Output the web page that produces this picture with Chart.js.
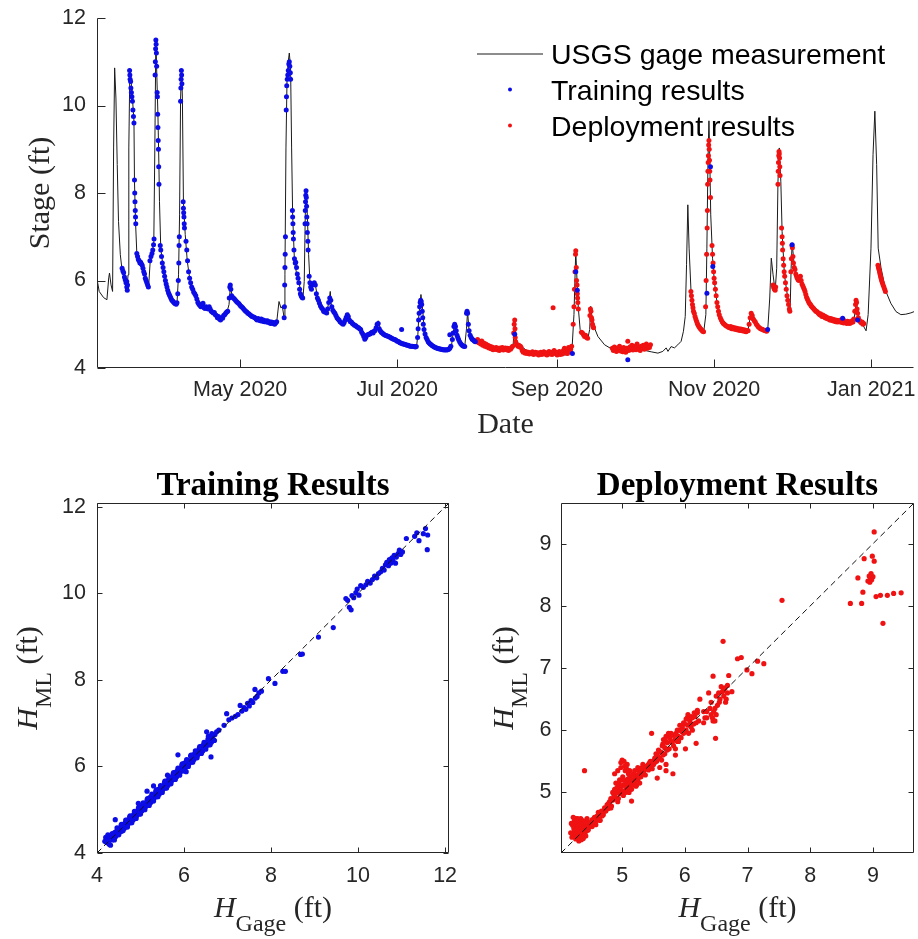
<!DOCTYPE html>
<html>
<head>
<meta charset="utf-8">
<script src="https://cdn.jsdelivr.net/npm/chart.js@4.4.1/dist/chart.umd.min.js"></script>
<style>
  body { margin: 0; background: #fff; }
  #page { position: relative; width: 918px; height: 939px; overflow: hidden; }
  canvas { position: absolute; }
</style>
</head>
<body>
<div id="page">
  <canvas id="stage" width="918" height="440" style="left:0;top:0"></canvas>
  <canvas id="train" width="460" height="489" style="left:0;top:450px"></canvas>
  <canvas id="deploy" width="458" height="489" style="left:460px;top:450px"></canvas>
</div>
<script>
// x values in the time chart are days since 2020-01-01
const dateTickDays = [121, 182, 244, 305, 366];
const dateTickLabels = ['May 2020', 'Jul 2020', 'Sep 2020', 'Nov 2020', 'Jan 2021'];
const stageTicks = [4, 6, 8, 10, 12];
const trainTicks = [4, 6, 8, 10, 12];
const deployTicks = [5, 6, 7, 8, 9];

// USGS gage measurement [day, stage ft]
const gageSeries = [
  [65.4,6.05],[66.3,5.75],[68.0,5.61],[69.3,5.56],[70.0,6.06],[70.3,6.17],[70.9,5.9],[71.5,5.75],[71.9,9.03],[72.3,10.86],
  [72.8,10.17],[73.3,8.65],[73.8,7.35],[74.5,6.59],[75.1,6.28],[76.2,6.06],[77.1,5.79],[77.5,6.13],[77.8,9.03],[78.2,10.82],
  [78.7,10.55],[79.3,10.09],[79.8,9.64],[80.0,8.27],[80.4,7.35],[80.9,6.63],[81.8,6.44],[82.9,6.4],[83.9,6.21],[84.8,5.98],
  [85.5,5.87],[86.1,6.44],[87.0,6.67],[87.5,6.89],[87.9,9.03],[88.3,11.54],[88.7,10.63],[89.1,9.79],[89.5,8.57],[89.7,7.81],
  [90.2,6.74],[91.3,6.21],[92.6,5.83],[93.9,5.64],[95.2,5.52],[96.5,5.48],[97.1,6.13],[97.5,7.5],[97.9,10.17],[98.3,10.82],
  [98.6,10.17],[99.0,7.81],[99.7,7.05],[100.5,6.44],[101.6,5.98],[103.6,5.67],[106.1,5.45],[108.7,5.37],[111.3,5.26],[113.9,5.13],
  [115.8,5.26],[116.7,5.45],[117.3,5.92],[117.8,5.67],[119.1,5.6],[121.6,5.45],[124.2,5.26],[128.1,5.13],[131.3,5.08],[134.6,5.03],
  [135.3,5.1],[136.1,5.52],[136.9,5.37],[137.4,5.41],[138.1,5.14],[138.4,6.13],[138.8,9.03],[139.2,10.55],[139.7,11.01],[140.1,11.2],
  [140.6,10.86],[141.0,9.03],[141.4,7.5],[142.1,6.44],[143.0,6.13],[143.6,6.06],[144.7,5.68],[145.4,5.6],[145.9,5.98],[146.3,7.5],
  [146.6,8.07],[147.1,7.5],[147.6,6.59],[148.1,5.98],[149.0,5.83],[150.1,5.94],[151.1,5.6],[152.7,5.37],[154.6,5.26],[155.5,5.52],
  [156.0,5.75],[156.5,5.37],[157.6,5.26],[159.1,5.1],[161.1,4.99],[162.4,5.14],[163.0,5.26],[164.0,5.07],[165.6,4.99],[167.5,4.91],
  [168.8,4.76],[169.7,4.65],[171.4,4.76],[173.3,4.84],[174.6,5.08],[175.7,4.84],[177.2,4.76],[179.2,4.72],[181.1,4.65],[183.7,4.57],
  [186.3,4.53],[189.5,4.49],[190.0,4.76],[190.4,5.22],[191.2,5.68],[191.8,5.37],[192.5,4.88],[193.4,4.68],[195.3,4.53],[197.9,4.46],
  [201.8,4.42],[203.1,4.53],[203.8,4.84],[204.4,5.03],[205.0,4.84],[205.9,4.65],[208.2,4.49],[208.9,4.91],[209.3,5.29],[209.9,4.84],
  [211.5,4.65],[213.4,4.57],[216.0,4.53],[219.9,4.46],[222.4,4.44],[225.7,4.42],[227.0,4.53],[227.6,5.14],[228.3,4.57],[230.2,4.49],
  [232.8,4.38],[236.7,4.34],[240.5,4.34],[244.4,4.3],[248.3,4.3],[249.8,4.38],[250.6,5.22],[251.3,6.68],[251.8,5.98],[252.3,5.37],
  [253.0,4.88],[254.1,4.76],[256.0,4.68],[256.7,4.88],[257.1,5.41],[257.6,5.14],[258.6,4.91],[259.9,4.72],[262.5,4.53],[265.7,4.42],
  [269.0,4.38],[272.8,4.38],[276.7,4.42],[280.6,4.37],[283.2,4.34],[285.1,4.38],[286.4,4.46],[287.1,4.38],[288.3,4.49],[289.6,4.46],
  [290.9,4.53],[292.2,4.61],[293.1,4.84],[293.8,5.18],[294.3,6.36],[294.8,7.73],[295.3,6.74],[296.1,5.68],[297.4,5.22],[299.3,4.95],
  [301.0,4.84],[301.8,5.22],[302.2,6.74],[302.6,8.65],[303.0,9.65],[303.3,8.88],[303.7,7.5],[304.4,6.51],[305.1,5.98],[306.4,5.37],
  [307.7,5.14],[310.3,4.99],[314.2,4.91],[318.1,4.85],[319.1,5.18],[320.0,5.22],[321.3,5.07],[323.2,4.91],[325.8,4.85],[326.6,5.6],
  [327.2,6.51],[327.9,6.13],[328.7,5.75],[329.3,6.28],[329.8,8.27],[330.3,9.03],[330.9,8.27],[331.4,7.12],[332.3,6.13],[333.6,5.6],
  [334.5,5.26],[334.9,6.28],[335.3,6.86],[336.2,6.28],[337.5,6.06],[338.7,6.09],[340.0,5.83],[342.6,5.45],[345.2,5.29],[347.8,5.18],
  [353.0,5.1],[358.1,5.07],[359.4,5.14],[360.2,5.52],[361.0,5.18],[362.3,5.03],[364.0,4.85],[364.8,5.22],[365.9,6.74],[366.7,8.88],
  [367.4,9.87],[368.1,8.65],[368.7,6.74],[369.8,6.29],[371.7,5.75],[373.6,5.48],[375.6,5.29],[377.5,5.22],[379.4,5.23],[381.4,5.26],
  [382.7,5.29]
];

// Training results [day, stage ft]
const trainSeries = [
  [75.2,6.28],[75.5,6.22],[75.8,6.18],[76.1,6.08],[76.4,6.02],[76.7,5.95],[77.0,5.85],[77.2,5.78],[77.3,5.9],[77.0,5.98],
  [78.1,10.8],[78.2,10.7],[78.3,10.6],[78.5,10.55],[78.6,10.4],[78.8,10.3],[79.0,10.2],[79.2,10.1],[79.4,9.9],[79.6,9.75],
  [79.8,9.6],[80.0,8.3],[80.1,8.0],[80.2,7.8],[80.3,7.6],[80.4,7.45],[80.5,7.3],[80.9,6.62],[81.2,6.55],[81.5,6.48],
  [81.8,6.45],[82.1,6.4],[82.4,6.42],[82.7,6.38],[83.0,6.35],[83.3,6.28],[83.6,6.2],[83.9,6.15],[84.2,6.05],[84.5,6.0],
  [84.8,5.95],[85.1,5.9],[85.4,5.85],[86.0,6.45],[86.4,6.55],[86.8,6.62],[87.1,6.7],[87.4,6.82],[87.6,6.95],[88.0,10.7],
  [88.1,11.0],[88.2,11.3],[88.3,11.5],[88.4,11.4],[88.5,11.2],[88.6,10.9],[88.8,10.3],[88.9,10.2],[89.0,9.8],[89.1,9.5],
  [89.2,9.2],[89.3,9.0],[89.4,8.6],[89.5,8.2],[90.0,6.8],[90.2,6.7],[90.5,6.55],[90.8,6.4],[91.1,6.3],[91.4,6.2],
  [91.7,6.1],[92.0,6.0],[92.3,5.92],[92.6,5.85],[92.9,5.78],[93.2,5.72],[93.5,5.68],[93.8,5.64],[94.1,5.6],[94.4,5.56],
  [94.7,5.54],[95.0,5.52],[95.3,5.5],[95.6,5.48],[95.9,5.47],[96.2,5.46],[96.5,5.49],[96.8,5.7],[97.0,6.0],[97.2,6.4],
  [97.3,6.8],[97.4,7.0],[97.9,10.1],[98.0,10.4],[98.1,10.6],[98.2,10.8],[98.3,10.7],[98.4,10.5],[98.9,7.8],[99.0,7.65],
  [99.1,7.55],[99.2,7.45],[99.3,7.3],[99.4,7.2],[100.0,6.9],[100.3,6.7],[100.6,6.45],[101.0,6.2],[101.4,6.05],[101.8,5.95],
  [102.2,5.85],[102.6,5.8],[103.0,5.73],[103.4,5.7],[103.8,5.65],[104.2,5.58],[104.6,5.5],[105.0,5.46],[105.4,5.43],[105.8,5.4],
  [106.2,5.42],[106.6,5.48],[107.0,5.38],[107.4,5.36],[107.8,5.4],[108.2,5.37],[108.6,5.35],[109.0,5.4],[109.4,5.35],[109.8,5.3],
  [110.2,5.28],[110.6,5.26],[111.0,5.27],[111.4,5.22],[111.8,5.2],[112.2,5.15],[112.6,5.18],[113.0,5.12],[113.4,5.1],[113.8,5.15],
  [114.2,5.14],[114.6,5.2],[115.0,5.22],[115.4,5.25],[115.8,5.28],[116.2,5.3],[116.8,5.6],[117.0,5.85],[117.2,5.9],[117.4,5.8],
  [117.7,5.65],[118.0,5.62],[118.4,5.6],[118.8,5.58],[119.2,5.55],[119.6,5.52],[120.0,5.5],[120.4,5.48],[120.8,5.45],[121.2,5.42],
  [121.6,5.4],[122.0,5.38],[122.4,5.35],[122.8,5.32],[123.2,5.3],[123.6,5.28],[124.0,5.25],[124.4,5.24],[124.8,5.22],[125.2,5.2],
  [125.6,5.18],[126.0,5.17],[126.4,5.16],[126.8,5.15],[127.2,5.12],[127.6,5.1],[128.0,5.13],[128.4,5.1],[128.8,5.08],[129.2,5.12],
  [129.6,5.07],[130.0,5.1],[130.4,5.06],[130.8,5.08],[131.2,5.05],[131.6,5.08],[132.0,5.04],[132.4,5.06],[132.8,5.02],[133.2,5.05],
  [133.6,5.02],[134.0,5.04],[134.4,5.0],[134.8,5.03],[135.2,5.06],[138.1,5.15],[138.2,5.4],[138.3,5.9],[138.4,6.3],[138.5,6.6],
  [138.6,7.0],[138.9,9.9],[139.0,10.2],[139.1,10.45],[139.3,10.6],[139.5,10.7],[139.7,10.8],[139.9,10.95],[140.1,11.0],[140.3,10.9],
  [140.5,10.75],[140.6,10.6],[141.3,7.6],[141.4,7.45],[141.5,7.3],[141.6,7.1],[141.7,6.95],[141.9,6.7],[142.1,6.5],[142.4,6.4],
  [142.6,6.42],[142.9,6.3],[143.2,6.15],[143.5,6.05],[143.8,5.95],[144.1,5.8],[144.4,5.7],[144.7,5.65],[145.0,5.62],[145.3,5.6],
  [146.2,7.3],[146.3,7.6],[146.4,7.8],[146.5,7.95],[146.6,8.05],[146.7,7.9],[146.8,7.7],[146.9,7.45],[147.0,7.3],[147.1,7.1],
  [147.3,6.9],[147.4,6.7],[147.8,6.1],[148.1,5.95],[148.4,5.85],[148.7,5.8],[149.0,5.9],[149.4,5.92],[149.8,5.95],[150.2,5.9],
  [150.6,5.7],[151.0,5.6],[151.4,5.55],[151.8,5.48],[152.2,5.42],[152.6,5.38],[153.0,5.35],[153.4,5.3],[153.8,5.28],[154.2,5.3],
  [154.6,5.26],[155.0,5.35],[155.4,5.5],[155.8,5.6],[156.2,5.55],[156.6,5.4],[157.0,5.32],[157.4,5.28],[157.8,5.25],[158.2,5.2],
  [158.6,5.15],[159.0,5.12],[159.4,5.1],[159.8,5.06],[160.2,5.04],[160.6,5.02],[161.0,5.0],[161.4,5.04],[161.8,5.1],[162.2,5.16],
  [162.6,5.22],[163.0,5.18],[163.4,5.1],[163.8,5.06],[164.2,5.05],[164.6,5.02],[165.0,5.0],[165.4,4.98],[165.8,4.97],[166.2,4.95],
  [166.6,4.93],[167.0,4.92],[167.4,4.9],[167.8,4.88],[168.2,4.82],[168.6,4.78],[169.0,4.72],[169.4,4.66],[169.8,4.7],[170.2,4.75],
  [170.6,4.76],[171.0,4.77],[171.4,4.78],[171.8,4.8],[172.2,4.82],[172.6,4.8],[173.0,4.84],[173.4,4.86],[173.8,4.92],[174.2,5.0],
  [174.6,5.02],[175.0,4.9],[175.4,4.85],[175.8,4.82],[176.2,4.8],[176.6,4.78],[177.0,4.76],[177.4,4.75],[177.8,4.74],[178.2,4.73],
  [178.6,4.72],[179.0,4.71],[179.4,4.7],[179.8,4.68],[180.2,4.67],[180.6,4.66],[181.0,4.65],[181.4,4.64],[181.8,4.62],[182.2,4.61],
  [182.6,4.6],[183.0,4.58],[183.4,4.57],[183.7,4.88],[183.8,4.56],[184.2,4.55],[184.6,4.55],[185.0,4.54],[185.4,4.53],[185.8,4.52],
  [186.2,4.52],[186.6,4.51],[187.0,4.5],[187.4,4.5],[187.8,4.5],[188.2,4.49],[188.6,4.49],[189.0,4.48],[189.4,4.49],[189.9,4.7],
  [190.1,4.9],[190.3,5.1],[190.5,5.25],[190.7,5.4],[190.9,5.5],[191.1,5.55],[191.3,5.52],[191.5,5.45],[191.7,5.3],[191.9,5.15],
  [192.1,5.0],[192.4,4.88],[192.8,4.78],[193.2,4.7],[193.6,4.65],[194.0,4.6],[194.4,4.57],[194.8,4.55],[195.2,4.53],[195.6,4.51],
  [196.0,4.5],[196.4,4.48],[196.8,4.47],[197.2,4.46],[197.6,4.45],[198.0,4.44],[198.4,4.44],[198.8,4.43],[199.2,4.43],[199.6,4.42],
  [200.0,4.42],[200.4,4.41],[200.8,4.42],[201.2,4.41],[201.6,4.42],[202.0,4.43],[202.4,4.76],[202.4,4.45],[202.8,4.5],[203.4,4.65],
  [203.7,4.8],[204.0,4.95],[204.3,5.0],[204.6,4.95],[204.9,4.85],[205.2,4.75],[205.5,4.7],[205.8,4.65],[206.2,4.6],[206.6,4.56],
  [207.0,4.53],[207.4,4.51],[207.8,4.5],[208.2,4.49],[208.9,5.25],[209.1,5.3],[209.3,5.25],[209.6,5.0],[209.9,4.85],[210.3,4.75],
  [210.7,4.7],[211.1,4.66],[211.5,4.64],[211.9,4.62],[212.3,4.6],
  [227.6,4.77],[250.0,4.33],[251.3,6.2],[251.9,5.78],[271.5,4.19],[302.2,5.71],[303.6,8.6],[304.5,6.32],[325.8,4.88],[335.3,6.82],
  [354.9,5.14],[360.7,5.1]
];

// Deployment results [day, stage ft]
const deploySeries = [
  [212.8,4.62],[213.2,4.65],[213.6,4.58],[214.0,4.6],[214.4,4.55],[214.8,4.62],[215.2,4.52],[215.6,4.57],[216.0,4.5],[216.4,4.55],
  [216.8,4.48],[217.2,4.52],[217.6,4.46],[218.0,4.5],[218.4,4.44],[218.8,4.48],[219.2,4.42],[219.6,4.46],[220.0,4.43],[220.4,4.47],
  [220.8,4.42],[221.2,4.45],[221.6,4.4],[222.0,4.46],[222.4,4.43],[222.8,4.47],[223.2,4.41],[223.6,4.44],[224.0,4.46],[224.4,4.42],
  [224.8,4.45],[225.2,4.4],[225.6,4.44],[226.0,4.43],[226.4,4.47],[226.8,4.5],[227.2,4.8],[227.4,5.0],[227.6,5.1],[227.7,4.9],
  [227.8,4.7],[228.0,4.6],[228.3,4.55],[228.6,4.52],[228.9,4.5],[229.2,4.52],[229.5,4.48],[229.8,4.5],[230.1,4.47],[230.5,4.4],
  [230.9,4.36],[231.3,4.38],[231.7,4.34],[232.1,4.37],[232.5,4.33],[232.9,4.36],[233.3,4.32],[233.7,4.35],[234.1,4.33],[234.5,4.37],
  [234.9,4.31],[235.3,4.34],[235.7,4.36],[236.1,4.32],[236.5,4.35],[236.9,4.3],[237.3,4.33],[237.7,4.36],[238.1,4.31],[238.5,4.34],
  [238.9,4.37],[239.3,4.32],[239.7,4.35],[240.1,4.3],[240.5,4.33],[240.9,4.38],[241.3,4.32],[241.7,4.36],[242.1,4.31],[242.5,5.38],
  [242.5,4.34],[242.9,4.4],[243.3,4.33],[243.7,4.36],[244.1,4.3],[244.5,4.34],[244.9,4.38],[245.3,4.31],[245.7,4.36],[246.1,4.32],
  [246.5,4.4],[246.9,4.45],[247.3,4.35],[247.7,4.42],[248.1,4.33],[248.5,4.47],[248.9,4.37],[249.3,4.43],[249.7,4.5],[250.3,5.0],
  [250.6,5.4],[250.8,5.8],[251.0,6.2],[251.2,6.6],[251.3,6.68],[251.5,6.3],[251.6,6.0],[251.8,5.9],[251.9,5.7],[252.0,5.6],
  [252.1,5.5],[252.3,5.35],[253.5,4.82],[253.9,4.8],[254.3,4.76],[254.7,4.72],[255.1,4.75],[255.5,4.7],[255.9,4.68],[256.8,5.2],
  [257.0,5.35],[257.2,5.3],[257.4,5.15],[257.6,5.1],[257.8,5.0],[258.0,4.95],[258.2,4.92],[265.5,4.45],[265.9,4.4],[266.3,4.48],
  [266.7,4.42],[267.1,4.38],[267.5,4.46],[267.9,4.41],[268.3,4.5],[268.7,4.39],[269.1,4.44],[269.5,4.37],[269.9,4.47],[270.3,4.42],
  [270.7,4.36],[271.1,4.45],[271.5,4.61],[271.9,4.4],[272.3,4.48],[272.7,4.43],[273.1,4.52],[273.5,4.41],[273.9,4.46],[274.3,4.5],
  [274.7,4.42],[275.1,4.55],[275.5,4.44],[275.9,4.48],[276.3,4.4],[276.7,4.5],[277.1,4.45],[277.5,4.52],[277.9,4.43],[278.3,4.48],
  [278.7,4.55],[279.1,4.45],[279.5,4.5],[279.9,4.47],[280.3,4.53],
  [296.0,5.75],[296.2,5.65],[296.4,5.55],[296.6,5.45],[296.8,5.38],[297.0,5.3],[297.3,5.25],[297.6,5.18],[297.9,5.12],[298.2,5.07],
  [298.5,5.02],[298.8,4.98],[299.1,4.95],[299.4,4.92],[299.7,4.9],[300.0,4.88],[300.3,4.86],[300.6,4.84],[300.9,4.83],[301.7,5.4],
  [301.9,6.0],[302.1,6.6],[302.3,7.2],[302.4,7.6],[302.5,8.2],[302.6,8.5],[302.7,8.7],[302.8,8.85],[302.9,9.1],[303.0,9.2],
  [303.1,9.0],[303.2,8.75],[303.3,8.5],[303.4,8.3],[303.6,7.9],[304.2,6.8],[304.4,6.6],[304.6,6.4],[304.8,6.2],[305.0,6.05],
  [305.2,5.95],[305.5,5.8],[305.8,5.65],[306.1,5.5],[306.4,5.4],[306.7,5.3],[307.0,5.22],[307.4,5.15],[307.8,5.1],[308.2,5.05],
  [308.6,5.02],[309.0,5.0],[309.4,4.98],[309.8,4.96],[310.2,4.95],[310.6,4.93],[311.0,4.92],[311.4,4.95],[311.8,4.9],[312.2,4.93],
  [312.6,4.89],[313.0,4.92],[313.4,4.88],[313.8,4.91],[314.2,4.87],[314.6,4.9],[315.0,4.86],[315.4,4.89],[315.8,4.85],[316.2,4.88],
  [316.6,4.84],[317.0,4.87],[317.4,4.83],[317.8,4.86],[318.2,4.85],[318.6,5.0],[319.0,5.15],[319.4,5.25],[319.8,5.2],[320.2,5.12],
  [320.6,5.08],[321.0,5.05],[321.4,5.0],[321.8,4.97],[322.2,4.94],[322.6,4.92],[323.0,4.9],[323.4,4.89],[323.8,4.88],[324.2,4.87],
  [324.6,4.86],[325.0,4.85],[325.4,4.84],[327.9,5.9],[328.1,5.85],[328.3,5.82],[328.5,5.8],[328.7,5.78],[328.9,5.85],[329.8,8.2],
  [329.9,8.5],[330.0,8.7],[330.1,8.85],[330.2,8.95],[330.3,8.9],[330.4,8.8],[330.5,8.6],[330.6,8.4],[331.2,7.2],[331.4,7.0],
  [331.5,6.85],[331.6,6.7],[331.8,6.5],[332.0,6.35],[332.2,6.2],[332.4,6.1],[332.7,5.95],[333.0,5.8],[333.3,5.65],[333.6,5.55],
  [333.9,5.45],[334.2,5.35],[334.4,5.3],[334.8,6.2],[335.0,6.5],[335.2,6.8],[335.4,6.75],[335.6,6.55],[335.8,6.4],[336.1,6.3],
  [336.4,6.25],[336.7,6.15],[337.0,6.1],[337.3,6.05],[337.6,6.02],[337.9,6.0],[338.2,6.05],[338.5,6.1],[338.8,6.0],[339.1,5.92],
  [339.4,5.88],[339.7,5.84],[340.0,5.8],[340.3,5.75],[340.6,5.68],[340.9,5.62],[341.2,5.58],[341.5,5.54],[341.8,5.5],[342.1,5.47],
  [342.4,5.45],[342.7,5.42],[343.0,5.4],[343.3,5.38],[343.6,5.36],[343.9,5.34],[344.2,5.32],[344.5,5.3],[344.8,5.29],[345.1,5.28],
  [345.4,5.26],[345.7,5.24],[346.0,5.22],[346.3,5.24],[346.6,5.2],[346.9,5.18],[347.2,5.21],[347.5,5.17],[347.8,5.19],[348.1,5.15],
  [348.4,5.17],[348.7,5.13],[349.0,5.15],[349.3,5.12],[349.6,5.14],[349.9,5.1],[350.2,5.13],[350.5,5.09],[350.8,5.12],[351.1,5.08],
  [351.4,5.11],[351.7,5.07],[352.0,5.1],[352.3,5.06],[352.6,5.09],[352.9,5.05],[353.2,5.08],[353.5,5.06],[353.8,5.09],[354.1,5.05],
  [354.4,5.1],[354.7,5.04],[355.0,5.07],[355.3,5.03],[355.6,5.08],[355.9,5.04],[356.2,5.06],[356.5,5.02],[356.8,5.07],[357.1,5.03],
  [357.4,5.06],[357.7,5.02],[358.0,5.05],[358.3,5.04],[358.6,5.08],[358.9,5.05],[359.2,5.12],[359.6,5.3],[359.9,5.45],[360.1,5.55],
  [360.3,5.5],[360.5,5.35],[360.7,5.25],[361.0,5.15],[361.3,5.1],[361.6,5.07],[361.9,5.05],[362.2,5.03],[362.5,5.05],[362.8,5.0],
  [363.1,5.02],[368.6,6.35],[368.8,6.3],[369.0,6.25],[369.2,6.2],[369.4,6.15],[369.6,6.1],[369.8,6.05],[370.0,6.0],[370.3,5.95],
  [370.6,5.9],[370.9,5.85],[371.2,5.8],[371.5,5.75]
];

// Training results: [H_Gage, H_ML] in ft
const trainFit = [
  [4.18,4.27],[4.2,4.36],[4.22,4.24],[4.24,4.31],[4.26,4.4],[4.28,4.2],[4.3,4.33],[4.31,4.18],[4.33,4.42],[4.35,4.3],
  [4.37,4.39],[4.39,4.34],[4.41,4.48],[4.42,4.77],[4.43,4.38],[4.45,4.5],[4.47,4.43],[4.49,4.56],[4.51,4.47],[4.53,4.52],
  [4.55,4.62],[4.57,4.5],[4.59,4.6],[4.61,4.66],[4.63,4.57],[4.65,4.7],[4.67,4.62],[4.69,4.76],[4.71,4.66],[4.73,4.72],
  [4.75,4.83],[4.77,4.7],[4.79,4.8],[4.81,4.86],[4.83,4.76],[4.85,4.9],[4.87,4.82],[4.89,4.95],[4.91,4.86],[4.93,4.92],
  [4.95,5.03],[4.97,4.9],[4.99,5.0],[5.01,5.07],[5.03,4.97],[5.05,5.1],[5.07,5.02],[5.09,5.14],[5.11,5.06],[5.13,5.12],
  [5.15,5.43],[5.15,5.22],[5.17,5.1],[5.19,5.2],[5.21,5.28],[5.23,5.16],[5.25,5.3],[5.27,5.22],[5.29,5.34],[5.31,5.26],
  [5.33,5.31],[5.35,5.42],[5.37,5.3],[5.39,5.4],[5.41,5.47],[5.43,5.36],[5.45,5.5],[5.47,5.42],[5.49,5.54],[5.51,5.46],
  [5.53,5.52],[5.55,5.63],[5.57,5.5],[5.59,5.6],[5.61,5.67],[5.63,5.56],[5.65,5.7],[5.67,5.62],[5.69,5.75],[5.71,5.66],
  [5.73,5.72],[5.75,5.83],[5.77,5.7],[5.79,5.8],[5.81,5.87],[5.83,5.76],[5.85,5.9],[5.86,6.27],[5.87,5.82],[5.89,5.95],
  [5.91,5.86],[5.93,5.92],[5.95,6.03],[5.97,5.9],[5.99,6.0],[6.01,6.08],[6.03,5.97],[6.05,6.1],[6.07,6.02],[6.09,6.14],
  [6.11,6.06],[6.13,6.12],[6.15,6.24],[6.17,6.1],[6.19,6.2],[6.21,6.27],[6.23,6.16],[6.25,6.3],[6.27,6.22],[6.29,6.35],
  [6.31,6.26],[6.33,6.31],[6.35,6.42],[6.37,6.3],[6.39,6.4],[6.41,6.47],[6.43,6.36],[6.45,6.5],[6.47,6.42],[6.49,6.55],
  [6.51,6.46],[6.52,6.8],[6.53,6.52],[6.55,6.63],[6.57,6.5],[6.59,6.6],[6.61,6.68],[6.62,6.22],[6.63,6.56],[6.65,6.7],
  [6.68,6.62],[6.71,6.74],[6.75,6.8],[6.8,6.84],[6.92,6.95],[6.98,7.22],[7.03,7.08],[7.1,7.12],[7.18,7.16],[7.24,7.2],
  [7.29,7.41],[7.33,7.28],[7.38,7.36],[7.42,7.32],[7.46,7.46],[7.5,7.4],[7.54,7.52],[7.58,7.48],[7.63,7.78],[7.64,7.58],
  [7.68,7.62],[7.72,7.7],[7.78,7.74],[7.94,8.03],[8.09,7.92],[8.27,8.2],[8.33,8.2],[8.68,8.59],[8.72,8.6],[9.09,8.99],
  [9.43,9.21],[9.72,9.88],[9.76,9.84],[9.8,9.68],[9.84,9.62],[9.86,9.95],[9.9,9.9],[9.95,10.02],[9.98,10.1],[10.02,9.96],
  [10.06,10.18],[10.12,10.14],[10.18,10.2],[10.22,10.28],[10.28,10.24],[10.33,10.32],[10.38,10.4],[10.43,10.36],[10.47,10.46],[10.52,10.5],
  [10.56,10.58],[10.6,10.54],[10.63,10.66],[10.66,10.72],[10.7,10.64],[10.72,10.78],[10.75,10.7],[10.78,10.82],[10.8,10.76],[10.83,10.88],
  [10.86,10.7],[10.88,10.84],[10.92,10.92],[10.95,11.0],[10.98,10.9],[11.02,10.96],[11.11,11.27],[11.3,11.32],[11.35,11.4],[11.4,11.22],
  [11.5,11.38],[11.55,11.5],[11.6,11.35],[11.59,11.01],
  [4.25,4.42],[4.28,4.3],[4.35,4.45],[4.4,4.3],[4.46,4.58],[4.5,4.42],[4.56,4.66],[4.6,4.52],[4.66,4.76],[4.7,4.6],
  [4.76,4.86],[4.8,4.7],[4.86,4.96],[4.9,4.8],[4.96,5.06],[5.0,4.9],[5.06,5.16],[5.1,5.0],[5.16,5.26],[5.2,5.1],
  [5.26,5.36],[5.3,5.2],[5.36,5.46],[5.4,5.3],[5.46,5.56],[5.5,5.4],[5.56,5.66],[5.6,5.5],[5.62,5.8],[5.66,5.76],
  [5.7,5.6],[5.76,5.86],[5.8,5.7],[5.86,5.96],[5.9,5.8],[5.96,6.06],[6.0,5.9],[6.06,6.16],[6.1,6.0],[6.16,6.26],
  [6.2,6.1],[6.26,6.36],[6.3,6.2],[6.36,6.46],[6.4,6.3],[6.46,6.56],[6.5,6.4],[6.56,6.7],[6.6,6.5],[6.64,6.76],
  [6.7,6.6],[5.3,5.55],[4.95,5.15],[6.05,5.88]
];

// Deployment results: [H_Gage, H_ML] in ft
const deployFit = [
  [4.21,4.47],[4.22,4.3],[4.23,4.42],[4.23,4.33],[4.24,4.55],[4.25,4.35],[4.25,4.52],[4.26,4.25],[4.26,4.4],[4.27,4.48],
  [4.28,4.38],[4.28,4.29],[4.29,4.58],[4.29,4.45],[4.3,4.3],[4.3,4.45],[4.31,4.22],[4.31,4.56],[4.32,4.36],[4.32,4.27],
  [4.33,4.52],[4.33,4.41],[4.34,4.28],[4.35,4.42],[4.35,4.24],[4.36,4.33],[4.36,4.55],[4.37,4.5],[4.38,4.26],[4.38,4.44],
  [4.39,4.4],[4.39,4.3],[4.4,4.35],[4.4,5.35],[4.41,4.46],[4.41,4.36],[4.42,4.38],[4.43,4.55],[4.43,4.45],[4.44,4.42],
  [4.45,4.48],[4.45,4.39],[4.46,4.4],[4.47,4.52],[4.48,4.45],[4.5,4.5],[4.52,4.56],[4.54,4.48],[4.56,4.6],[4.58,4.54],
  [4.6,4.62],[4.62,4.58],[4.64,4.66],[4.65,4.55],[4.67,4.7],[4.7,4.64],[4.72,4.75],[4.74,4.7],[4.76,4.8],[4.78,4.74],
  [4.8,4.85],[4.82,4.9],[4.83,4.78],[4.85,5.0],[4.86,4.88],[4.88,5.05],[4.88,5.3],[4.9,4.92],[4.9,5.15],[4.92,5.0],
  [4.93,5.35],[4.94,4.9],[4.95,5.08],[4.96,5.2],[4.97,4.98],[4.98,5.4],[4.99,5.1],[5.0,5.02],[5.01,5.25],[5.02,4.95],
  [5.03,5.5],[5.04,5.12],[5.05,5.35],[5.06,5.05],[5.07,5.2],[5.08,5.45],[5.09,5.1],[5.1,5.3],[5.11,5.0],[5.12,5.15],
  [5.13,5.25],[5.14,5.08],[5.15,4.86],[5.16,5.2],[5.17,5.12],[5.18,5.3],[5.2,5.18],[5.21,5.25],[5.22,5.1],[5.24,5.28],
  [5.25,5.2],[5.27,5.35],[5.28,5.25],[5.3,5.32],[5.32,5.4],[5.34,5.3],[5.36,5.38],[5.4,5.42],[5.42,5.36],[5.44,5.48],
  [5.46,5.4],[5.47,5.95],[5.48,5.5],[5.5,5.45],[5.52,5.55],[5.54,5.62],[5.55,5.5],[5.56,5.23],[5.57,5.58],[5.58,5.68],
  [5.6,5.55],[5.62,5.65],[5.64,5.75],[5.65,5.6],[5.66,5.85],[5.68,5.72],[5.7,5.9],[5.7,5.45],[5.72,5.8],[5.74,5.95],
  [5.75,5.7],[5.76,5.88],[5.78,5.82],[5.8,5.92],[5.81,5.3],[5.82,5.75],[5.84,5.85],[5.86,5.95],[5.88,5.82],[5.9,5.9],
  [5.92,6.0],[5.94,5.88],[5.96,6.05],[5.98,5.95],[6.0,6.1],[6.01,5.7],[6.02,6.0],[6.04,6.2],[6.05,6.08],[6.06,5.95],
  [6.08,6.15],[6.1,6.05],[6.12,6.2],[6.14,6.1],[6.16,6.22],[6.18,5.79],[6.2,6.28],[6.22,6.15],[6.24,6.5],[6.3,6.12],
  [6.32,6.2],[6.35,6.3],[6.38,6.6],[6.4,6.35],[6.42,6.25],[6.44,6.2],[6.45,6.87],[6.46,6.3],[6.48,6.15],[6.49,5.87],
  [6.5,6.25],[6.52,6.4],[6.54,6.6],[6.56,6.5],[6.58,6.7],[6.6,6.62],[6.61,7.43],[6.62,6.55],[6.64,6.68],[6.66,6.5],
  [6.68,6.6],[6.7,6.88],[6.75,6.62],[6.84,7.15],[6.9,7.17],[6.99,6.97],[7.07,6.91],[7.16,7.11],[7.26,7.07],[7.55,8.09],
  [8.64,8.04],[8.76,8.45],[8.82,8.04],[8.84,8.22],[8.86,8.76],[8.92,8.4],[8.94,8.48],[8.95,8.38],[8.96,8.44],[8.97,8.52],
  [8.98,8.42],[8.99,8.8],[9.0,8.47],[9.02,8.72],[9.02,9.19],[9.05,8.15],[9.12,8.17],[9.23,8.17],[9.33,8.2],[9.45,8.21],
  [9.16,7.72],
  [4.18,4.35],[4.19,4.5],[4.2,4.28],[4.22,4.6],[4.24,4.38],[4.26,4.58],[4.27,4.32],[4.29,4.52],[4.3,4.38],[4.32,4.48],
  [4.34,4.58],[4.36,4.45],[4.37,4.28],[4.4,4.52],[4.42,4.3],[4.44,4.58],[4.48,4.52],[4.52,4.45],[4.55,4.58],[4.58,4.48],
  [4.62,4.68],[4.64,4.55],[4.68,4.62],[4.72,4.7],[4.78,4.82],[4.82,4.75],[4.85,4.88],[4.87,4.95],[4.9,5.0],[4.92,5.08],
  [4.93,4.85],[4.95,5.15],[4.97,5.05],[4.98,5.48],[5.0,5.2],[5.0,5.52],[5.02,5.12],[5.04,5.42],[5.05,5.0],[5.06,5.15],
  [5.07,5.38],[5.08,5.05],[5.1,5.22],[5.11,5.12],[5.12,5.35],[5.14,5.18],[5.15,5.05],[5.17,5.28],[5.19,5.15],[5.2,5.35],
  [5.22,5.25],[5.23,5.12],[5.25,5.4],[5.26,5.28],[5.28,5.15],[5.3,5.25],[5.32,5.32],[5.33,5.45],[5.35,5.35],[5.37,5.28],
  [5.38,5.42],[5.42,5.45],[5.45,5.5],[5.48,5.38],[5.52,5.48],[5.55,5.58],[5.6,5.65],[5.63,5.52],[5.65,5.78],[5.68,5.62],
  [5.7,5.82],[5.72,5.68],[5.75,5.92],[5.78,5.95],[5.8,5.8],[5.83,5.92],[5.85,5.7],[5.88,6.0],[5.9,5.82],[5.92,6.08],
  [5.95,5.98],[5.98,6.12],[6.0,5.98],[6.02,6.18],[6.05,6.25],[6.08,6.1],[6.1,6.22],[6.12,6.0],[6.15,6.28],[6.18,6.12],
  [6.2,6.32],[5.7,5.35],[5.6,5.4],[5.85,5.6],[6.3,6.3],[6.35,6.2],[6.42,6.45],[6.45,6.15],[6.48,6.35],[6.5,6.55],
  [6.55,6.45],[6.62,6.65],[6.65,6.45],[6.68,6.72]
];

const trainRange = [4, 12.09];
const deployRange = [4.025, 9.655];

const BLUE = '#0c0ce6';
const RED = '#f01212';
const AXIS = '#262626';
const SANS = '"Liberation Sans", Arial, Helvetica, sans-serif';
const SERIF = '"Liberation Serif", "Times New Roman", serif';

const toXY = arr => arr.map(([x, y]) => ({ x, y }));

function drawRich(ctx, parts, x, y, rotate) {
  ctx.save();
  ctx.translate(x, y);
  if (rotate) ctx.rotate(-Math.PI / 2);
  ctx.textAlign = 'left';
  ctx.textBaseline = 'alphabetic';
  ctx.fillStyle = AXIS;
  let total = 0;
  parts.forEach(p => { ctx.font = p.font; p.w = ctx.measureText(p.text).width; total += p.w; });
  let cx = -total / 2;
  parts.forEach(p => {
    ctx.font = p.font;
    ctx.fillText(p.text, cx, p.dy || 0);
    cx += p.w;
  });
  ctx.restore();
}

// axes lines, inward ticks, titles and legend
function makeFrame(cfg) {
  return {
    id: 'frame',
    afterDraw(chart) {
      const { ctx, chartArea: a, scales: { x, y } } = chart;
      const L = Math.round(a.left) + 0.5, R = Math.round(a.right) - 0.5;
      const T = Math.round(a.top) + 0.5, B = Math.round(a.bottom) - 0.5;
      const len = cfg.tickLen;
      ctx.save();
      ctx.strokeStyle = AXIS;
      ctx.lineWidth = 1;
      ctx.beginPath();
      x.ticks.forEach(t => {
        const px = Math.round(x.getPixelForValue(t.value)) + 0.5;
        ctx.moveTo(px, B); ctx.lineTo(px, B - len);
        if (cfg.box) { ctx.moveTo(px, T); ctx.lineTo(px, T + len); }
      });
      y.ticks.forEach(t => {
        const py = Math.round(y.getPixelForValue(t.value)) + 0.5;
        ctx.moveTo(L, py); ctx.lineTo(L + len, py);
        if (cfg.box) { ctx.moveTo(R, py); ctx.lineTo(R - len, py); }
      });
      ctx.moveTo(L, T); ctx.lineTo(L, B); ctx.lineTo(R, B);
      if (cfg.box) { ctx.lineTo(R, T); ctx.lineTo(L, T); }
      ctx.stroke();

      if (cfg.title) {
        ctx.fillStyle = '#000';
        ctx.font = 'bold 33px ' + SERIF;
        ctx.textAlign = 'center';
        ctx.textBaseline = 'alphabetic';
        ctx.fillText(cfg.title, (a.left + a.right) / 2, cfg.titleY);
      }
      drawRich(ctx, cfg.xTitle, (a.left + a.right) / 2, cfg.xTitleY, false);
      drawRich(ctx, cfg.yTitle, cfg.yTitleX, (a.top + a.bottom) / 2, true);

      if (cfg.legend) {
        const lg = cfg.legend;
        ctx.font = '28.5px ' + SANS;
        ctx.textAlign = 'left';
        ctx.textBaseline = 'alphabetic';
        lg.order.forEach((di, row) => {
          const ds = chart.data.datasets[di];
          const cy = lg.rows[row] - 10;
          if (ds.showLine) {
            ctx.strokeStyle = ds.borderColor;
            ctx.lineWidth = 1;
            ctx.beginPath();
            ctx.moveTo(lg.x, cy + 0.5); ctx.lineTo(lg.x + lg.w, cy + 0.5);
            ctx.stroke();
          } else {
            ctx.fillStyle = ds.pointBackgroundColor;
            ctx.beginPath();
            ctx.arc(lg.x + lg.w / 2, cy, 2, 0, Math.PI * 2);
            ctx.fill();
          }
          ctx.fillStyle = '#000';
          ctx.fillText(ds.label, lg.textX, lg.rows[row]);
        });
      }
      ctx.restore();
    }
  };
}

function hTitle(sub) {
  return [
    { text: 'H', font: 'italic 30px ' + SERIF },
    { text: sub, font: '24px ' + SERIF, dy: 14 },
    { text: ' (ft)', font: '30px ' + SERIF }
  ];
}

function axisOpts(o) {
  return {
    type: 'linear',
    min: o.min,
    max: o.max,
    afterBuildTicks: s => { s.ticks = o.ticks.map(v => ({ value: v })); },
    afterFit: s => {
      if (o.width !== undefined) s.width = o.width;
      if (o.height !== undefined) s.height = o.height;
      s.paddingLeft = 0; s.paddingRight = 0; s.paddingTop = 0; s.paddingBottom = 0;
    },
    grid: { display: false, drawTicks: false },
    border: { display: false },
    ticks: {
      autoSkip: false,
      maxRotation: 0,
      minRotation: 0,
      padding: o.pad,
      color: AXIS,
      font: { family: SANS, size: 21.5 },
      callback: o.labels ? (v, i) => o.labels[i] : v => v
    }
  };
}

const common = {
  responsive: false,
  animation: false,
  events: [],
  plugins: { legend: { display: false }, tooltip: { enabled: false } }
};

// time series
new Chart(document.getElementById('stage'), {
  type: 'scatter',
  data: {
    datasets: [
      { label: 'Training results', data: toXY(trainSeries), pointRadius: 2.5, pointBackgroundColor: BLUE,
        pointBorderWidth: 0, order: 1 },
      { label: 'Deployment results', data: toXY(deploySeries), pointRadius: 2.5, pointBackgroundColor: RED,
        pointBorderWidth: 0, order: 2 },
      { label: 'USGS gage measurement', data: toXY(gageSeries), showLine: true, borderColor: '#1a1a1a',
        borderWidth: 1, pointRadius: 0, tension: 0, order: 3 }
    ]
  },
  options: {
    ...common,
    layout: { padding: { left: 0, right: 3, top: 18, bottom: 0 } },
    scales: {
      x: axisOpts({ min: 65.45, max: 382.6, ticks: dateTickDays, labels: dateTickLabels, height: 72, pad: 9.5 }),
      y: axisOpts({ min: 4, max: 12, ticks: stageTicks, width: 97, pad: 11 })
    }
  },
  plugins: [makeFrame({
    tickLen: 8, box: false,
    xTitle: [{ text: 'Date', font: '30px ' + SERIF }], xTitleY: 433,
    yTitle: [{ text: 'Stage (ft)', font: '30px ' + SERIF }], yTitleX: 48.5,
    legend: { order: [2, 0, 1], x: 477, w: 66, textX: 551, rows: [63.5, 99.5, 135.5] }
  })]
});

function fitChart(id, points, color, range, ticks, title, leftW, rightPad, yTitleX, yPad) {
  new Chart(document.getElementById(id), {
    type: 'scatter',
    data: {
      datasets: [
        { label: 'identity', data: toXY([[range[0], range[0]], [range[1], range[1]]]), showLine: true,
          borderColor: '#111', borderWidth: 1, borderDash: [6, 4], pointRadius: 0, order: 0 },
        { label: title, data: toXY(points), pointRadius: 2.6, pointBackgroundColor: color,
          pointBorderWidth: 0, order: 1 }
      ]
    },
    options: {
      ...common,
      layout: { padding: { left: 0, right: rightPad, top: 53, bottom: 0 } },
      scales: {
        x: axisOpts({ min: range[0], max: range[1], ticks, height: 86, pad: 10.5 }),
        y: axisOpts({ min: range[0], max: range[1], ticks, width: leftW, pad: yPad })
      }
    },
    plugins: [makeFrame({
      tickLen: 5, box: true,
      title, titleY: 45,
      xTitle: hTitle('Gage'), xTitleY: 466.5,
      yTitle: hTitle('ML'), yTitleX
    })]
  });
}

fitChart('train', trainFit, BLUE, trainRange, trainTicks, 'Training Results', 97, 11, 36.7, 11);
fitChart('deploy', deployFit, RED, deployRange, deployTicks, 'Deployment Results', 101, 4, 53.3, 9.5);
</script>
</body>
</html>
